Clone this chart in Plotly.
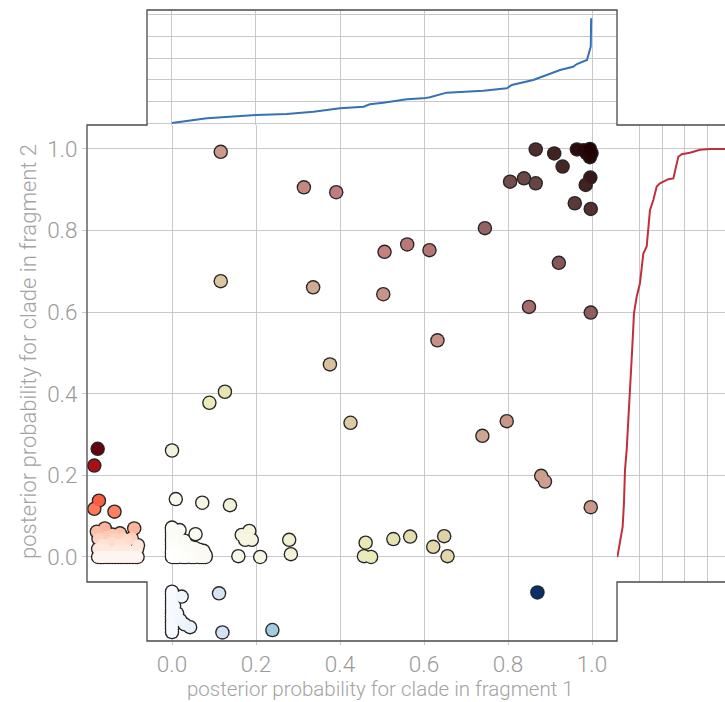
import plotly.graph_objects as go
import plotly.colors as pc

# ---------------- data ----------------
# clades present in both fragments, dense cluster near the origin
cluster_frag1 = [0.000, 0.010, 0.030, 0.050, 0.070, 0.080, 0.005, 0.020, 0.040, 0.060,
                 0.000, 0.015, 0.025, 0.045, 0.055, 0.065, 0.075, 0.000, 0.035,
                 0.000, 0.012, 0.020, 0.030, 0.000, 0.008, 0.000, 0.018,
                 0.000, 0.000, 0.000, 0.000, 0.000, 0.000, 0.000, 0.000,
                 0.005, 0.015, 0.025, 0.035, 0.045, 0.055, 0.065, 0.075, 0.080]
cluster_frag2 = [0.000, 0.000, 0.000, 0.000, 0.000, 0.005, 0.005, 0.010, 0.005, 0.005,
                 0.015, 0.020, 0.020, 0.025, 0.022, 0.018, 0.015, 0.030, 0.030,
                 0.045, 0.040, 0.040, 0.040, 0.060, 0.055, 0.072, 0.066,
                 0.008, 0.022, 0.038, 0.052, 0.066, 0.003, 0.012, 0.070,
                 0.000, 0.000, 0.000, 0.000, 0.000, 0.000, 0.000, 0.000, 0.000]

# clades present in both fragments: posterior probability in fragment 1 / fragment 2
both_frag1 = [0.056, 0.000, 0.009, 0.072, 0.138,
              0.166, 0.184, 0.190, 0.174, 0.158, 0.210, 0.279, 0.283,
              0.461, 0.457, 0.474, 0.527, 0.567, 0.622, 0.648, 0.656,
              0.089, 0.126, 0.425, 0.376, 0.116, 0.336, 0.503, 0.632,
              0.116, 0.314, 0.391, 0.506, 0.560, 0.613,
              0.739, 0.797, 0.879, 0.888, 0.997, 0.850, 0.997, 0.921, 0.745,
              0.959, 0.997, 0.805, 0.838, 0.866, 0.985, 0.996,
              0.866, 0.910, 0.930, 0.964, 0.980, 0.987, 0.995, 0.999, 0.995]
both_frag2 = [0.056, 0.261, 0.142, 0.133, 0.127,
              0.054, 0.064, 0.042, 0.042, 0.002, 0.000, 0.042, 0.007,
              0.035, 0.002, 0.000, 0.044, 0.050, 0.025, 0.051, 0.002,
              0.378, 0.405, 0.329, 0.472, 0.676, 0.661, 0.644, 0.531,
              0.993, 0.906, 0.894, 0.748, 0.766, 0.752,
              0.297, 0.333, 0.199, 0.185, 0.122, 0.613, 0.599, 0.721, 0.806,
              0.867, 0.853, 0.920, 0.928, 0.916, 0.912, 0.930,
              0.999, 0.989, 0.957, 0.999, 0.997, 0.990, 0.980, 0.990, 1.000]

# clades only in fragment 2 (strip left of the axis): probability and strip jitter
only2_prob = [0.070, 0.070, 0.062, 0.058, 0.055, 0.050, 0.046, 0.045, 0.045, 0.045, 0.040,
              0.035, 0.035, 0.030, 0.030, 0.029, 0.015, 0.012, 0.012, 0.010, 0.010, 0.008,
              0.020, 0.018, 0.016, 0.014, 0.020, 0.018,
              0.000, 0.000, 0.000, 0.000, 0.000, 0.000, 0.000, 0.000, 0.000, 0.000,
              0.000, 0.000, 0.000, 0.000, 0.000, 0.000,
              0.111, 0.118, 0.138, 0.224, 0.265]
only2_jitter = [-0.160, -0.090, -0.179, -0.124, -0.142, -0.155, -0.096, -0.175, -0.135, -0.115, -0.106,
                -0.145, -0.110, -0.165, -0.125, -0.081, -0.170, -0.135, -0.105, -0.150, -0.090, -0.120,
                -0.176, -0.158, -0.128, -0.098, -0.083, -0.112,
                -0.176, -0.170, -0.163, -0.156, -0.149, -0.142, -0.135, -0.128, -0.121, -0.114,
                -0.107, -0.100, -0.093, -0.086, -0.082, -0.168,
                -0.137, -0.185, -0.174, -0.185, -0.177]

# clades only in fragment 1 (strip below the axis): probability and strip jitter
only1_prob = [0.000, 0.000, 0.000, 0.000, 0.000, 0.000, 0.000, 0.000,
              0.000, 0.000, 0.000, 0.000, 0.000, 0.000,
              0.023, 0.005, 0.012, 0.020, 0.030, 0.043,
              0.112, 0.120, 0.239, 0.870]
only1_jitter = [-0.085, -0.100, -0.115, -0.130, -0.145, -0.160, -0.175, -0.184,
                -0.092, -0.108, -0.122, -0.138, -0.152, -0.168,
                -0.097, -0.120, -0.138, -0.155, -0.165, -0.172,
                -0.089, -0.185, -0.179, -0.087]

# marginal curves
top_x = [0.0, 0.083, 0.2, 0.273, 0.337, 0.4, 0.456, 0.471, 0.503, 0.559, 0.598, 0.614, 0.654,
         0.741, 0.797, 0.809, 0.860, 0.892, 0.924, 0.955, 0.964, 0.988, 0.994, 0.997, 0.998]
top_y = [0.0, 0.043, 0.074, 0.083, 0.105, 0.136, 0.151, 0.173, 0.188, 0.219, 0.228, 0.238, 0.281,
         0.299, 0.321, 0.352, 0.398, 0.444, 0.491, 0.521, 0.546, 0.583, 0.660, 0.707, 0.969]
right_x = [0.003, 0.05, 0.062, 0.071, 0.086, 0.10, 0.116, 0.133, 0.151, 0.175, 0.204, 0.234, 0.264,
           0.293, 0.323, 0.353, 0.382, 0.412, 0.456, 0.501, 0.545, 0.575, 0.649, 0.738, 0.827, 0.96]
right_y = [0.0, 0.074, 0.132, 0.213, 0.262, 0.328, 0.393, 0.499, 0.597, 0.638, 0.671, 0.744, 0.761,
           0.850, 0.875, 0.908, 0.916, 0.920, 0.926, 0.928, 0.981, 0.987, 0.991, 0.998, 1.0, 1.0]

tick_vals = [0.0, 0.2, 0.4, 0.6, 0.8, 1.0]
tick_text = ["0.0", "0.2", "0.4", "0.6", "0.8", "1.0"]
x_title = "posterior probability for clade in fragment 1"
y_title = "posterior probability for clade in fragment 2"

# ---------------- styling ----------------
W, H = 725, 702
def PX(p):
    return p / W
def PY(p):
    return 1 - p / H

pink_r = [[0.0, "rgb(255,255,255)"], [0.1, "rgb(246,246,228)"], [0.2, "rgb(237,237,198)"],
          [0.254, "rgb(232,232,180)"], [0.3, "rgb(228,222,174)"], [0.4, "rgb(218,198,161)"],
          [0.5, "rgb(208,171,147)"], [0.6, "rgb(198,139,132)"], [0.635, "rgb(194,126,126)"],
          [0.7, "rgb(176,114,114)"], [0.8, "rgb(143,93,93)"], [0.9, "rgb(101,66,66)"],
          [1.0, "rgb(30,0,0)"]]

FONT = "Roboto"
TICK_COLOR = "#9a9a9a"
GRID = "#c9c9c9"
EDGE = "#262626"
OUT_SIZE = 14.5
FILL_SIZE = 11.8

fig = go.Figure()

def add_group(xs, ys, colors, scale, cmin, cmax):
    # dark underlay gives one outline around overlapping markers
    fig.add_trace(go.Scatter(
        x=xs, y=ys, mode="markers", xaxis="x", yaxis="y",
        marker=dict(size=OUT_SIZE, color=EDGE, line=dict(width=0)),
        showlegend=False, hoverinfo="skip"))
    fig.add_trace(go.Scatter(
        x=xs, y=ys, mode="markers", xaxis="x", yaxis="y",
        marker=dict(size=FILL_SIZE, color=colors, colorscale=scale, cmin=cmin, cmax=cmax,
                    line=dict(width=0)),
        showlegend=False, hoverinfo="skip"))

add_group(cluster_frag1, cluster_frag2,
          [(a + b) / 2 for a, b in zip(cluster_frag1, cluster_frag2)], pink_r, 0, 1)
add_group(only2_jitter, only2_prob, only2_prob, pc.sequential.Reds, 0, 0.26)
add_group(only1_prob, only1_jitter, only1_prob, pc.sequential.Blues, 0, 0.65)
add_group(both_frag1, both_frag2,
          [(a + b) / 2 for a, b in zip(both_frag1, both_frag2)], pink_r, 0, 1)

fig.add_trace(go.Scatter(
    x=top_x, y=top_y, mode="lines", xaxis="x2", yaxis="y2",
    line=dict(color="#3471b5", width=2), showlegend=False, hoverinfo="skip"))
fig.add_trace(go.Scatter(
    x=right_x, y=right_y, mode="lines", xaxis="x3", yaxis="y3",
    line=dict(color="#c0303c", width=2), showlegend=False, hoverinfo="skip"))

grid_common = dict(showgrid=True, gridcolor=GRID, gridwidth=1.2, zeroline=False,
                   showline=False)
tickfont = dict(family=FONT, size=22.5, color=TICK_COLOR, weight=300)
fig.update_layout(
    width=W, height=H, margin=dict(l=0, r=0, t=0, b=0),
    paper_bgcolor="white", plot_bgcolor="rgba(0,0,0,0)",
    xaxis=dict(domain=[PX(87), PX(617)], range=[-0.2024, 1.0595], tickvals=tick_vals,
               ticktext=tick_text, ticks="outside", ticklen=3, tickcolor=GRID,
               ticklabelstandoff=0,
               tickfont=tickfont, anchor="y", **grid_common),
    yaxis=dict(domain=[PY(641), PY(125)], range=[-0.2059, 1.0588], tickvals=tick_vals,
               ticktext=tick_text, ticks="outside", ticklen=4, tickcolor=GRID,
               tickfont=tickfont, anchor="x", **grid_common),
    xaxis2=dict(domain=[PX(147), PX(617)], range=[-0.0595, 1.0595], tickvals=tick_vals,
                showticklabels=False, anchor="y2", **grid_common),
    yaxis2=dict(domain=[PY(125), PY(10)], range=[-0.0185, 1.046], tickvals=tick_vals,
                showticklabels=False, anchor="x2", **grid_common),
    xaxis3=dict(domain=[PX(617), 1.0], range=[0, 0.96], tickvals=[0, 0.2, 0.4, 0.6, 0.8],
                showticklabels=False, anchor="y3", **grid_common),
    yaxis3=dict(domain=[PY(582), PY(125)], range=[-0.0613, 1.0588], tickvals=tick_vals,
                showticklabels=False, anchor="x3", **grid_common),
)

outline = ("M {a},{b} L {c},{b} L {c},{d} L {e},{d} L {e},{f} L {c},{f} L {c},{g} "
           "L {h},{g} L {h},{f} L {i},{f} L {i},{d} L {h},{d} Z").format(
    a=PX(147), b=PY(10), c=PX(617), d=PY(125), e=1.003, f=PY(582), g=PY(641),
    h=PX(147), i=PX(87))
fig.add_shape(type="path", xref="paper", yref="paper", path=outline,
              line=dict(color="#4a4a4a", width=1.3), layer="above")

fig.add_annotation(x=PX(380), y=PY(702), xref="paper", yref="paper", text=x_title,
                   showarrow=False, xanchor="center", yanchor="bottom", borderpad=0,
                   font=dict(family=FONT, size=20.5, color="#a3a3a3", weight=300))
fig.add_annotation(x=PX(28), y=PY(352), xref="paper", yref="paper", text=y_title,
                   showarrow=False, textangle=-90, xanchor="center", yanchor="middle",
                   font=dict(family=FONT, size=22, color="#a3a3a3", weight=300))

fig.write_html("out.html", config={"displayModeBar": False},
               post_script="document.body.style.margin='0px';")
